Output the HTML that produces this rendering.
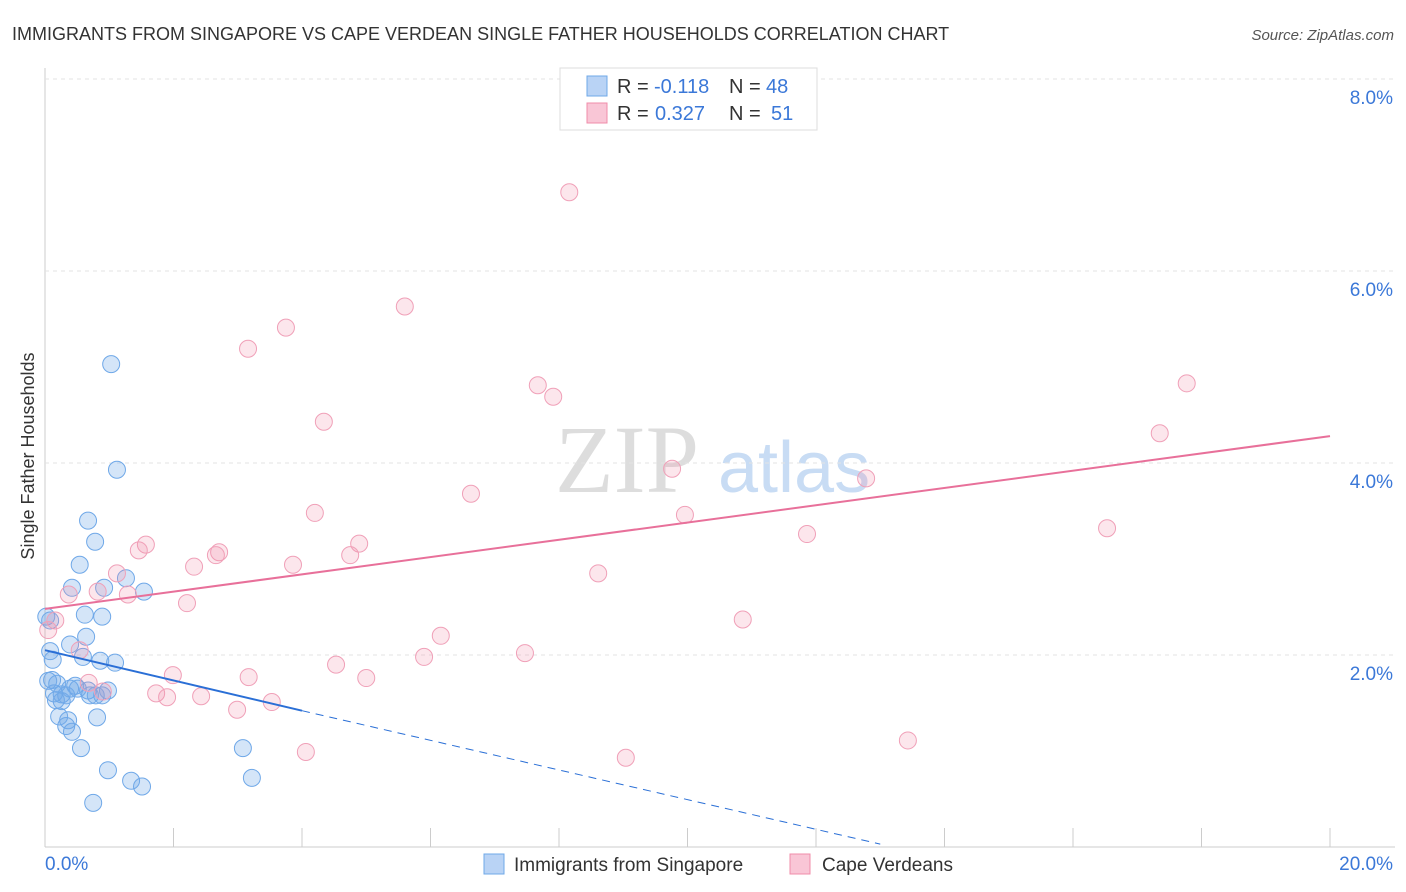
<!DOCTYPE html>
<html><head><meta charset="utf-8"><style>
body{margin:0;background:#fff;font-family:"Liberation Sans",sans-serif}
svg{display:block}
</style></head><body>
<svg id="c" width="1406" height="892">
<text x="12" y="40" font-size="18" fill="#333">IMMIGRANTS FROM SINGAPORE VS CAPE VERDEAN SINGLE FATHER HOUSEHOLDS CORRELATION CHART</text>
<text x="1394" y="40" font-size="15" fill="#555" font-style="italic" text-anchor="end">Source: ZipAtlas.com</text>
<text x="0" y="0" transform="translate(34,456) rotate(-90)" font-size="18" fill="#333" text-anchor="middle">Single Father Households</text>
<text x="555" y="492" font-size="96" fill="#ddd" font-family="Liberation Serif">ZIP</text>
<text x="718" y="492" font-size="72" fill="#c8dcf4">atlas</text>
<g id="grid"></g><g id="pts"></g><g id="lines"></g>
<g>
<rect x="560" y="68" width="257" height="62" fill="#fff" stroke="#ddd"/>
<rect x="587" y="76" width="20" height="20" fill="#b9d3f5" stroke="#6fa8e8"/>
<rect x="587" y="103" width="20" height="20" fill="#f9c6d6" stroke="#f08caa"/>
<text x="617" y="93" font-size="20" fill="#333">R =</text>
<text x="654" y="93" font-size="20" fill="#3b78d8">-0.118</text>
<text x="729" y="93" font-size="20" fill="#333">N =</text>
<text x="766" y="93" font-size="20" fill="#3b78d8">48</text>
<text x="617" y="120" font-size="20" fill="#333">R =</text>
<text x="655" y="120" font-size="20" fill="#3b78d8">0.327</text>
<text x="729" y="120" font-size="20" fill="#333">N =</text>
<text x="771" y="120" font-size="20" fill="#3b78d8">51</text>
</g>
<g>
<rect x="484" y="854" width="20" height="20" fill="#b9d3f5" stroke="#6fa8e8"/>
<text x="514" y="871" font-size="19" fill="#333">Immigrants from Singapore</text>
<rect x="790" y="854" width="20" height="20" fill="#f9c6d6" stroke="#f08caa"/>
<text x="822" y="871" font-size="19" fill="#333">Cape Verdeans</text>
</g>
</svg>
<script>
const yTicks=[2,4,6,8];
const xTickLabels=["0.0%","20.0%"];
const blueX=[1.03,1.12,0.67,0.78,0.54,0.42,1.26,1.54,0.92,0.62,0.89,0.64,0.39,0.59,0.08,0.86,1.09,0.11,0.19,0.47,0.67,0.26,0.14,0.98,0.79,0.33,0.51,0.26,0.22,0.36,0.33,0.42,0.81,0.56,0.98,1.34,1.51,0.75,3.08,3.22,0.08,0.02,0.12,0.05,0.70,0.89,0.39,0.17];
const blueY=[5.03,3.93,3.40,3.18,2.94,2.70,2.80,2.66,2.70,2.42,2.40,2.19,2.11,1.98,2.04,1.94,1.92,1.74,1.70,1.68,1.63,1.59,1.60,1.63,1.58,1.58,1.65,1.52,1.36,1.32,1.26,1.20,1.35,1.03,0.80,0.69,0.63,0.46,1.03,0.72,2.36,2.40,1.95,1.73,1.58,1.58,1.65,1.53];
const pinkX=[8.16,5.60,3.75,3.16,7.67,7.91,17.77,4.34,17.35,9.76,12.78,6.63,4.20,9.96,16.53,11.86,4.89,1.57,1.46,2.71,2.66,4.75,3.86,2.32,8.61,1.12,0.82,1.29,0.37,2.21,10.86,6.16,0.54,7.47,5.90,4.53,1.99,3.17,5.00,0.68,0.90,1.73,1.90,2.43,3.53,2.99,4.06,9.04,13.43,0.16,0.05];
const pinkY=[6.82,5.63,5.41,5.19,4.81,4.69,4.83,4.43,4.31,3.94,3.84,3.68,3.48,3.46,3.32,3.26,3.16,3.15,3.09,3.07,3.04,3.04,2.94,2.92,2.85,2.85,2.66,2.63,2.63,2.54,2.37,2.20,2.05,2.02,1.98,1.90,1.79,1.77,1.76,1.71,1.62,1.60,1.56,1.57,1.51,1.43,0.99,0.93,1.11,2.36,2.26];
const blueTrend=[[0,2.05],[4.0,1.42]], blueDash=[[4.0,1.42],[13.0,0.03]];
const pinkTrend=[[0,2.48],[20,4.28]];
const X=v=>45+v/20*1285, Y=v=>847-v*96;
const NS="http://www.w3.org/2000/svg";
function mk(p,t,a){const e=document.createElementNS(NS,t);for(const k in a)e.setAttribute(k,a[k]);p.appendChild(e);return e;}
const g=document.getElementById('grid');
const ax=mk(g,'line',{x1:45,y1:68,x2:45,y2:847,stroke:'#ccc'});


const bx=mk(g,'line',{x1:45,y1:847,x2:1395,y2:847,stroke:'#ccc'});


yTicks.forEach(t=>{
 const l=mk(g,'line',{x1:45,y1:Y(t),x2:1395,y2:Y(t),stroke:'#e3e3e3','stroke-dasharray':'4,4'});
 
 
 const tx=mk(g,'text',{x:1393,y:Y(t)+25,'font-size':19,fill:'#3b78d8','text-anchor':'end'});
 tx.textContent=t.toFixed(1)+'%';
 
 
});
for(let i=0;i<=10;i++){const tk=mk(g,'line',{x1:X(i*2),y1:828,x2:X(i*2),y2:847,stroke:'#ccc'});
 
 }
[[0,45,'start'],[1,1393,'end']].forEach(([i,x,a])=>{const t=mk(g,'text',{x:x,y:870,'font-size':19,fill:'#3b78d8','text-anchor':a});t.textContent=xTickLabels[i];
 
 });
const p=document.getElementById('pts');
blueX.forEach((v,i)=>{const c=mk(p,'circle',{cx:X(v),cy:Y(blueY[i]),r:8.5,fill:'rgba(111,168,232,0.3)',stroke:'#6fa8e8','stroke-width':1});
 
 });
pinkX.forEach((v,i)=>{const c=mk(p,'circle',{cx:X(v),cy:Y(pinkY[i]),r:8.5,fill:'rgba(240,140,170,0.22)',stroke:'#f0a0b8','stroke-width':1});
 
 });
const L=document.getElementById('lines');
const l1=mk(L,'line',{x1:X(blueTrend[0][0]),y1:Y(blueTrend[0][1]),x2:X(blueTrend[1][0]),y2:Y(blueTrend[1][1]),stroke:'#2a6fd6','stroke-width':2});


const l2=mk(L,'line',{x1:X(blueDash[0][0]),y1:Y(blueDash[0][1]),x2:X(blueDash[1][0]),y2:Y(blueDash[1][1]),stroke:'#2a6fd6','stroke-width':1,'stroke-dasharray':'8,6'});


const l3=mk(L,'line',{x1:X(pinkTrend[0][0]),y1:Y(pinkTrend[0][1]),x2:X(pinkTrend[1][0]),y2:Y(pinkTrend[1][1]),stroke:'#e8709a','stroke-width':2});


</script>
</body></html>
